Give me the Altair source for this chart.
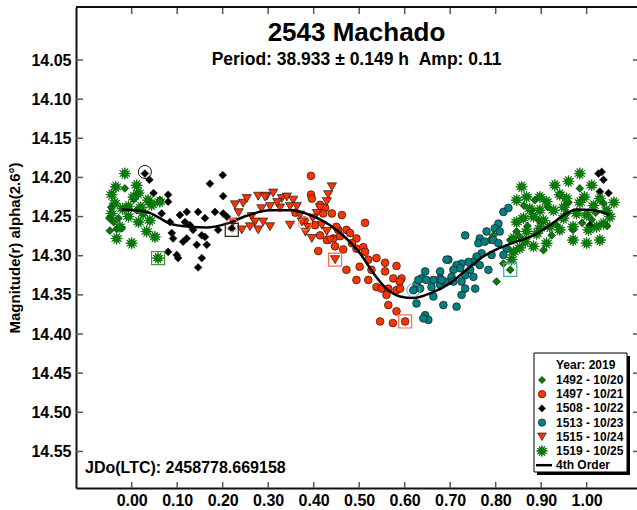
import math
import altair as alt
import pandas as pd

# ---------------- data ----------------
series_names = ["1492 - 10/20", "1497 - 10/21", "1508 - 10/22", "1513 - 10/23", "1515 - 10/24", "1519 - 10/25"]
curve_name = "4th Order"

s1492_phase = [-0.049, -0.029, -0.048, -0.033, -0.022, -0.015, -0.040, 0.011, -0.045, 0.005,
               0.802, 0.817, 0.832, 0.846, 0.879, 0.886, 0.941, 0.985, 0.970, 0.923, 0.905, 0.787,
               0.795, 0.956, 1.011, 1.037, 0.934, 0.853, 0.832, 0.862, 0.895, 0.915, 0.960, 0.990,
               1.020, 1.045, 0.870]
s1492_mag = [14.252, 14.252, 14.268, 14.266, 14.265, 14.214, 14.257, 14.242, 14.238, 14.228,
             14.333, 14.310, 14.280, 14.269, 14.242, 14.229, 14.222, 14.214, 14.267, 14.274, 14.293, 14.280,
             14.274, 14.246, 14.254, 14.233, 14.261, 14.276, 14.318, 14.236, 14.255, 14.238, 14.232, 14.258,
             14.245, 14.262, 14.262]

s1497_phase = [0.394, 0.394, 0.396, 0.414, 0.425, 0.421, 0.440, 0.462, 0.403, 0.414, 0.429, 0.443,
               0.454, 0.472, 0.480, 0.494, 0.513, 0.410, 0.447, 0.465, 0.484, 0.494, 0.509, 0.513,
               0.538, 0.520, 0.501, 0.527, 0.557, 0.582, 0.472, 0.494, 0.520, 0.557, 0.538, 0.549,
               0.575, 0.593, 0.589, 0.564, 0.582, 0.560, 0.564, 0.582, 0.546, 0.574, 0.601, 0.450,
               0.458, 0.590, 0.380, 0.360]
s1497_mag = [14.198, 14.222, 14.227, 14.235, 14.239, 14.246, 14.246, 14.248, 14.261, 14.274, 14.280, 14.278,
             14.267, 14.267, 14.271, 14.278, 14.258, 14.294, 14.288, 14.292, 14.284, 14.291, 14.289, 14.295,
             14.303, 14.305, 14.314, 14.318, 14.309, 14.313, 14.318, 14.331, 14.331, 14.320, 14.340, 14.342,
             14.329, 14.329, 14.333, 14.342, 14.344, 14.350, 14.363, 14.371, 14.384, 14.386, 14.384, 14.263,
             14.275, 14.342, 14.255, 14.245]

s1508_phase = [0.029, 0.039, 0.048, 0.062, 0.080, 0.066, 0.084, 0.106, 0.121, 0.117, 0.128, 0.146,
               0.088, 0.091, 0.121, 0.113, 0.135, 0.161, 0.172, 0.200, 0.201, 0.183, 0.190, 0.201,
               0.209, 0.154, 0.161, 0.143, 0.080, 0.099, 0.102, 0.154, 0.146, 0.165, 0.220, 0.080,
               1.026, 1.033, 1.037, 1.029, 1.048, 1.007]
s1508_mag = [14.195, 14.203, 14.220, 14.229, 14.222, 14.246, 14.257, 14.248, 14.244, 14.257, 14.261, 14.244,
             14.271, 14.278, 14.278, 14.282, 14.267, 14.252, 14.208, 14.197, 14.224, 14.244, 14.267, 14.246,
             14.250, 14.274, 14.276, 14.286, 14.295, 14.299, 14.303, 14.303, 14.315, 14.286, 14.265, 14.231,
             14.195, 14.193, 14.203, 14.218, 14.220, 14.261]

s1513_phase = [0.817, 0.828, 0.806, 0.798, 0.809, 0.780, 0.765, 0.733, 0.762, 0.776, 0.795, 0.806,
               0.824, 0.817, 0.791, 0.769, 0.758, 0.751, 0.740, 0.725, 0.714, 0.722, 0.707, 0.696,
               0.744, 0.765, 0.784, 0.751, 0.733, 0.703, 0.678, 0.678, 0.663, 0.645, 0.637, 0.648,
               0.626, 0.634, 0.659, 0.678, 0.689, 0.707, 0.725, 0.755, 0.733, 0.725, 0.663, 0.626,
               0.685, 0.714, 0.645, 0.652, 0.619, 0.630, 0.681, 0.692, 0.641]
s1513_mag = [14.244, 14.239, 14.259, 14.265, 14.269, 14.269, 14.278, 14.274, 14.284, 14.282, 14.280, 14.284,
             14.291, 14.299, 14.299, 14.297, 14.301, 14.308, 14.308, 14.310, 14.312, 14.316, 14.318, 14.305,
             14.318, 14.312, 14.318, 14.327, 14.325, 14.327, 14.320, 14.329, 14.331, 14.320, 14.329, 14.331,
             14.337, 14.342, 14.340, 14.337, 14.333, 14.333, 14.333, 14.342, 14.342, 14.350, 14.352, 14.361,
             14.363, 14.365, 14.376, 14.382, 14.344, 14.331, 14.331, 14.305, 14.380]

s1515_phase = [0.227, 0.245, 0.253, 0.278, 0.297, 0.264, 0.271, 0.260, 0.278, 0.242, 0.223, 0.293,
               0.311, 0.330, 0.341, 0.355, 0.440, 0.432, 0.429, 0.414, 0.304, 0.326, 0.348, 0.363,
               0.289, 0.304, 0.348, 0.374, 0.370, 0.388, 0.396, 0.418, 0.429, 0.436, 0.447, 0.407,
               0.235, 0.320, 0.285, 0.382, 0.398]
s1515_mag = [14.235, 14.233, 14.227, 14.224, 14.224, 14.250, 14.257, 14.263, 14.267, 14.267, 14.257, 14.225,
             14.220, 14.227, 14.225, 14.229, 14.212, 14.222, 14.231, 14.239, 14.237, 14.239, 14.237, 14.237,
             14.257, 14.263, 14.261, 14.257, 14.248, 14.264, 14.278, 14.261, 14.269, 14.280, 14.305, 14.246,
             14.245, 14.232, 14.240, 14.270, 14.252]

s1519_phase = [-0.015, 0.011, 0.015, -0.044, -0.037, -0.007, 0.036, 0.044, -0.007, 0.015, -0.033, 0.000,
               0.033, 0.051, -0.044, -0.026, 0.062, 0.058, 0.025, 0.004, -0.020, 0.020, -0.035, 0.040,
               0.985, 0.857, 0.846, 0.868, 0.897, 0.912, 0.941, 0.956, 1.011, 1.029, 1.044, 1.051,
               1.037, 1.000, 0.978, 0.949, 0.927, 0.897, 0.883, 0.861, 0.846, 0.868, 0.897, 0.919,
               0.941, 0.970, 1.004, 1.022, 1.000, 0.970, 0.912, 0.883, 0.853, 0.839, 0.835, 0.839,
               1.029, 0.960, 0.995, 1.060, 0.930, 0.875, 0.890, 0.905, 0.950, 0.985, 1.015, 0.865]
s1519_mag = [14.195, 14.210, 14.220, 14.222, 14.233, 14.237, 14.229, 14.235, 14.250, 14.257, 14.278, 14.284,
             14.269, 14.276, 14.246, 14.263, 14.231, 14.303, 14.246, 14.225, 14.240, 14.238, 14.212, 14.255,
             14.195, 14.212, 14.229, 14.225, 14.225, 14.231, 14.222, 14.227, 14.210, 14.227, 14.242, 14.250,
             14.259, 14.248, 14.246, 14.252, 14.242, 14.242, 14.250, 14.252, 14.257, 14.269, 14.265, 14.263,
             14.267, 14.263, 14.267, 14.263, 14.284, 14.280, 14.284, 14.288, 14.290, 14.295, 14.305, 14.278,
             14.280, 14.205, 14.225, 14.232, 14.210, 14.240, 14.272, 14.255, 14.238, 14.232, 14.236, 14.282]

curve_phase = [-0.022, 0.033, 0.062, 0.084, 0.128, 0.165, 0.209, 0.253, 0.304, 0.348, 0.392, 0.436,
               0.472, 0.502, 0.531, 0.560, 0.590, 0.619, 0.656, 0.700, 0.736, 0.773, 0.809, 0.846,
               0.883, 0.919, 0.956, 0.978, 1.015, 1.051]
curve_mag = [14.241, 14.244, 14.252, 14.259, 14.263, 14.264, 14.259, 14.249, 14.242, 14.242, 14.248, 14.261,
             14.278, 14.297, 14.322, 14.342, 14.352, 14.354, 14.348, 14.335, 14.318, 14.301, 14.290, 14.282,
             14.274, 14.261, 14.246, 14.241, 14.242, 14.248]

circle_phase = [0.029, 0.221, 0.381, 0.619]
circle_mag = [14.193, 14.261, 14.259, 14.344]
circle_color = ["#111111", "#ff9a80", "#ff9a80", "#5aa8a8"]
box_phase = [0.220, 0.058, 0.447, 0.601, 0.832]
box_mag = [14.267, 14.303, 14.305, 14.384, 14.318]
box_color = ["#222222", "#3c9c3c", "#ff6a4a", "#ff6a4a", "#4aa5a5"]

x_ticks = [0.0, 0.1, 0.2, 0.3, 0.4, 0.5, 0.6, 0.7, 0.8, 0.9, 1.0]
y_ticks = [14.05, 14.10, 14.15, 14.20, 14.25, 14.30, 14.35, 14.40, 14.45, 14.50, 14.55]

title_text = "2543 Machado"
subtitle_text = "Period: 38.933 \u00b1 0.149 h \u00a0Amp: 0.11"
jd_text = "JDo(LTC): 2458778.669158"
y_title = "Magnitude(r) alpha(2.6\u00b0)"
legend_title = "Year: 2019"

# ---------------- style ----------------
FONT = "Liberation Sans"
W, H = 561, 481
GREEN, RED, BLACK, TEAL = "#008000", "#ff3300", "#000000", "#008080"

pts = []
for k in range(24):
    a = math.radians(-90 + 15 * k)
    r = 1.0 if k % 2 == 0 else 0.45
    pts.append(f"{r * math.cos(a):.3f},{r * math.sin(a):.3f}")
STAR = "M" + "L".join(pts) + "Z"

series_colors = [GREEN, RED, BLACK, TEAL, RED, GREEN]
series_shapes = ["diamond", "circle", "diamond", "circle", "triangle-down", STAR]
series_sizes = [60, 60, 60, 60, 85, 140]
series_strokes = ["#1a1a1a"] * 5 + ["#006400"]

x_enc = alt.X("phase:Q", title=None,
              scale=alt.Scale(domain=[-0.1224, 1.1106], nice=False, zero=False),
              axis=alt.Axis(values=x_ticks, format=".2f", ticks=False, tickSize=0, grid=False,
                            labelPadding=4, domainColor="#111111", domainWidth=2))
y_enc = alt.Y("mag:Q", title=y_title,
              scale=alt.Scale(domain=[13.9823, 14.5967], reverse=True, nice=False, zero=False),
              axis=alt.Axis(values=y_ticks, format=".2f", ticks=False, tickSize=0, grid=False,
                            labelPadding=5, titlePadding=8, domainColor="#111111", domainWidth=2))

all_phase = [s1492_phase, s1497_phase, s1508_phase, s1513_phase, s1515_phase, s1519_phase]
all_mag = [s1492_mag, s1497_mag, s1508_mag, s1513_mag, s1515_mag, s1519_mag]

layers = []
for i, name in enumerate(series_names):
    df = pd.DataFrame({"phase": all_phase[i], "mag": all_mag[i]})
    layers.append(alt.Chart(df).mark_point(
        filled=True, opacity=1, size=series_sizes[i], shape=series_shapes[i],
        fill=series_colors[i], stroke=series_strokes[i], strokeWidth=0.7,
    ).encode(x=x_enc, y=y_enc))

curve_df = pd.DataFrame({"phase": curve_phase, "mag": curve_mag})
layers.append(alt.Chart(curve_df).mark_line(color="black", strokeWidth=2.5, interpolate="monotone")
              .encode(x=x_enc, y=y_enc))

circ_df = pd.DataFrame({"phase": circle_phase, "mag": circle_mag, "c": circle_color})
layers.append(alt.Chart(circ_df).mark_point(shape="circle", filled=False, size=170, strokeWidth=1,
                                            opacity=1)
              .encode(x=x_enc, y=y_enc, stroke=alt.Stroke("c:N", scale=None)))
box_df = pd.DataFrame({"phase": box_phase, "mag": box_mag, "c": box_color})
layers.append(alt.Chart(box_df).mark_point(shape="square", filled=False, size=170, strokeWidth=1.2,
                                           opacity=1)
              .encode(x=x_enc, y=y_enc, stroke=alt.Stroke("c:N", scale=None)))

# inward ticks on all four sides
xt = pd.DataFrame({"phase": x_ticks})
yt = pd.DataFrame({"mag": y_ticks})
layers.append(alt.Chart(xt).mark_rule(color="#555555", strokeWidth=1.5)
              .encode(x=x_enc, y=alt.value(H), y2=alt.value(H - 6)))
layers.append(alt.Chart(xt).mark_rule(color="#555555", strokeWidth=1.5)
              .encode(x=x_enc, y=alt.value(0), y2=alt.value(7)))
layers.append(alt.Chart(yt).mark_rule(color="#555555", strokeWidth=1.5)
              .encode(y=y_enc, x=alt.value(0), x2=alt.value(7)))
layers.append(alt.Chart(yt).mark_rule(color="#555555", strokeWidth=1.5)
              .encode(y=y_enc, x=alt.value(W - 4), x2=alt.value(W)))
# top frame line
layers.append(alt.Chart(pd.DataFrame({"a": [0]})).mark_rule(color="#111111", strokeWidth=2)
              .encode(x=alt.value(0), x2=alt.value(W), y=alt.value(0)))

# texts
layers.append(alt.Chart(pd.DataFrame({"t": [title_text]})).mark_text(
    font=FONT, fontSize=26, fontWeight="bold", color="black", baseline="middle", align="center")
    .encode(text="t:N", x=alt.value(W / 2), y=alt.value(26)))
layers.append(alt.Chart(pd.DataFrame({"t": [subtitle_text]})).mark_text(
    font=FONT, fontSize=17.5, fontWeight="bold", color="black", baseline="middle", align="center")
    .encode(text="t:N", x=alt.value(W / 2), y=alt.value(53)))
layers.append(alt.Chart(pd.DataFrame({"t": [jd_text]})).mark_text(
    font=FONT, fontSize=16, fontWeight="bold", color="black", baseline="middle", align="left")
    .encode(text="t:N", x=alt.value(9), y=alt.value(461)))

# ---------------- legend (drawn in pixel space of the plot area) ----------------
LX0, LY0, LX1, LY1 = 458, 346, 551, 465
ROW0, ROWH = 373, 14.2
legend_rows = series_names + [curve_name]
leg_df = pd.DataFrame({
    "label": legend_rows,
    "ly": [ROW0 + ROWH * i for i in range(len(legend_rows))],
    "tx": [480] * len(legend_rows),
})
sym_df = pd.DataFrame({
    "ly": [ROW0 + ROWH * i for i in range(len(series_names))],
    "lx": [466] * len(series_names),
    "shp": series_shapes,
    "fc": series_colors,
    "sc": series_strokes,
    "sz": [50, 55, 50, 55, 75, 130],
})
box_frame = pd.DataFrame({"a": [0]})
layers.append(alt.Chart(box_frame).mark_rect(color="black")
              .encode(x=alt.value(LX0 + 3), x2=alt.value(LX1 + 3), y=alt.value(LY0 + 3), y2=alt.value(LY1 + 3)))
layers.append(alt.Chart(box_frame).mark_rect(fill="white", stroke="black", strokeWidth=1)
              .encode(x=alt.value(LX0), x2=alt.value(LX1), y=alt.value(LY0), y2=alt.value(LY1)))
layers.append(alt.Chart(pd.DataFrame({"t": [legend_title]})).mark_text(
    font=FONT, fontSize=12, fontWeight="bold", color="black", baseline="middle", align="left")
    .encode(text="t:N", x=alt.value(480), y=alt.value(ROW0 - 15)))
layers.append(alt.Chart(sym_df).mark_point(filled=True, opacity=1, strokeWidth=0.7).encode(
    x=alt.X("lx:Q", scale=None), y=alt.Y("ly:Q", scale=None),
    shape=alt.Shape("shp:N", scale=None), fill=alt.Fill("fc:N", scale=None),
    stroke=alt.Stroke("sc:N", scale=None), size=alt.Size("sz:Q", scale=None)))
layers.append(alt.Chart(box_frame).mark_rule(color="black", strokeWidth=2.5)
              .encode(x=alt.value(460), x2=alt.value(476), y=alt.value(ROW0 + ROWH * 6)))
layers.append(alt.Chart(leg_df).mark_text(
    font=FONT, fontSize=12, fontWeight="bold", color="black", baseline="middle", align="left")
    .encode(text="label:N", x=alt.X("tx:Q", scale=None), y=alt.Y("ly:Q", scale=None)))

chart = alt.layer(*layers).properties(
    width=W, height=H,
    autosize=alt.AutoSizeParams(type="none"),
    padding={"left": 76, "top": 7, "right": 0, "bottom": 22},
    background="white",
).configure_view(stroke=None).configure_axis(
    labelFont=FONT, labelFontSize=16, labelFontWeight="bold", labelColor="black",
    titleFont=FONT, titleFontSize=15, titleFontWeight="bold", titleColor="black",
)

chart.save("out.html", embed_options={"renderer": "svg", "actions": False})
